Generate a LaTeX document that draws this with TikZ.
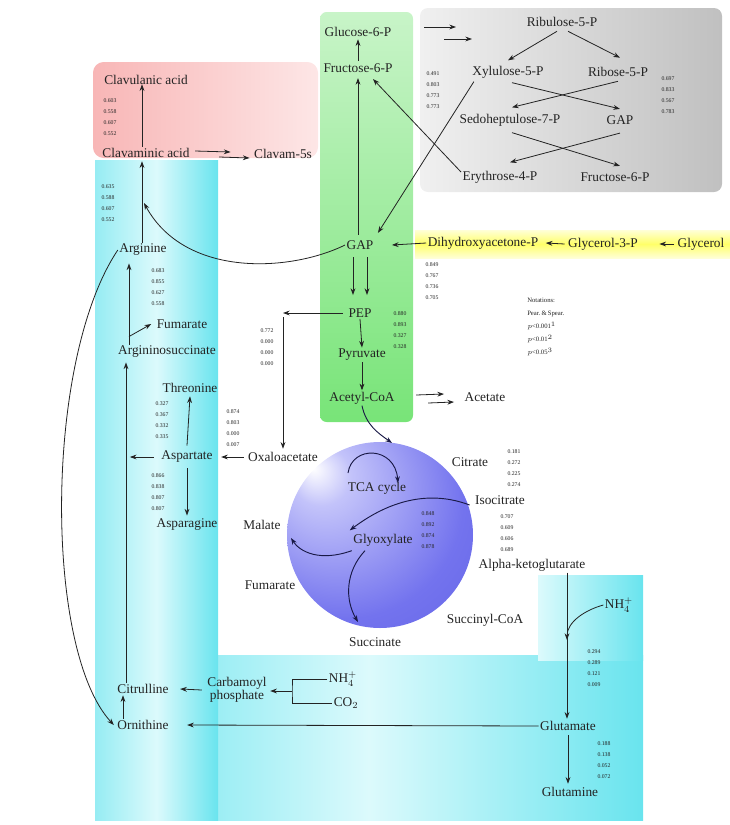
\documentclass[tikz,border=0pt]{standalone}
\usepackage{fontspec}
\setmainfont{Liberation Serif}
\usetikzlibrary{arrows.meta,calc}
\definecolor{cyanA}{RGB}{105,228,238}
\definecolor{cyanL}{RGB}{220,250,252}
\definecolor{grnA}{RGB}{120,228,120}
\definecolor{grnL}{RGB}{200,244,200}
\definecolor{redA}{RGB}{248,182,182}
\definecolor{redL}{RGB}{253,230,230}
\definecolor{gryA}{RGB}{192,192,192}
\definecolor{gryL}{RGB}{240,240,240}
\definecolor{yelA}{RGB}{255,255,105}
\definecolor{yelL}{RGB}{255,255,215}
\definecolor{ballL}{RGB}{195,195,250}
\definecolor{ballB}{RGB}{115,115,238}
\definecolor{ballD}{RGB}{82,82,220}
\definecolor{txt}{RGB}{35,35,35}
\definecolor{navy}{RGB}{25,25,70}
\pgfdeclareradialshading{tcaball}{\pgfpoint{-18bp}{18bp}}{color(0bp)=(white); color(8bp)=(ballL); color(32bp)=(ballB); color(68bp)=(ballD)}
\tikzset{
 lbl/.style={font=\fontsize{10}{11}\selectfont, text=txt, inner sep=1pt},
 nums/.style={font=\fontsize{4.3}{8.2}\selectfont, align=left, inner sep=0pt, text=txt},
 legtxt/.style={font=\fontsize{5}{9.8}\selectfont, align=left, inner sep=0pt, text=txt},
 arr/.style={-{Stealth[length=5pt,width=3.6pt]}, line width=0.6pt, draw=txt},
 narr/.style={-{Stealth[length=5pt,width=3.6pt]}, line width=0.7pt, draw=navy},
 ln/.style={line width=0.6pt, draw=txt},
}
\begin{document}
\begin{tikzpicture}[x=0.75pt,y=-0.75pt]
\useasboundingbox (0,0) rectangle (730,825);
% ---------- backgrounds
\shade[left color=cyanA, right color=cyanA, middle color=cyanL] (95,655) rectangle (643,820);
\shade[left color=cyanL, right color=cyanA] (538,575) rectangle (643,660);
\shade[left color=cyanA!70!white, right color=cyanA, middle color=cyanL] (95,160) rectangle (218,820);
\shade[left color=redA, right color=redL, rounded corners=8pt] (93,62) rectangle (318,158);
\shade[left color=gryL, right color=gryA, rounded corners=6pt] (420,8) rectangle (722,192);
\shade[top color=grnL, bottom color=grnA, rounded corners=5pt] (320,12) rectangle (413,422);
\shade[top color=yelL, bottom color=yelL, middle color=yelA] (415,230) rectangle (730,258);
\shade[shading=tcaball] (380,535) circle (93);

% ---------- red box
\node[lbl] (clavu) at (146,80) {Clavulanic acid};
\node[lbl] (clavam) at (146,153) {Clavaminic acid};
\node[lbl] (clav5) at (283,154) {Clavam-5s};
\node[nums] (nclav) at (110,117) {0.603\\0.558\\0.607\\0.552};

% ---------- green column
\node[lbl] (g6p) at (358,32) {Glucose-6-P};
\node[lbl] (f6p) at (358,68) {Fructose-6-P};
\node[lbl] (gap) at (360,245) {GAP};
\node[lbl] (pep) at (360,313) {PEP};
\node[lbl] (pyr) at (362,355) {Pyruvate};
\node[lbl] (accoa) at (362,398) {Acetyl-CoA};
\node[lbl] (acet) at (485,397) {Acetate};
\node[nums] (npep) at (400,330) {0.880\\0.893\\0.327\\0.328};

% ---------- gray box
\node[lbl] (ru5p) at (562,22) {Ribulose-5-P};
\node[lbl] (xu5p) at (508,72) {Xylulose-5-P};
\node[lbl] (r5p) at (618,72) {Ribose-5-P};
\node[lbl] (s7p) at (510,120) {Sedoheptulose-7-P};
\node[lbl] (gap2) at (620,120) {GAP};
\node[lbl] (e4p) at (500,177) {Erythrose-4-P};
\node[lbl] (f6p2) at (615,177) {Fructose-6-P};
\node[nums] (ngl) at (433,90) {0.491\\0.803\\0.773\\0.773};
\node[nums] (ngr) at (668,95) {0.697\\0.833\\0.567\\0.783};
\coordinate (la1) at (424,27); \coordinate (la2) at (456,27);
\coordinate (lb1) at (444,39); \coordinate (lb2) at (472,39);

% ---------- yellow band
\node[lbl] (dhap) at (483,243) {Dihydroxyacetone-P};
\node[lbl] (g3p) at (603,244) {Glycerol-3-P};
\node[lbl] (glyc) at (701,244) {Glycerol};
\node[nums] (ndhap) at (432,281) {0.849\\0.767\\0.736\\0.705};

% ---------- legend
\node[legtxt, anchor=north west] (leg) at (527,298) {Notations:\\Pear.\,\&\,Spear.\\$p$<0.001$^{1}$\\$p$<0.01$^{2}$\\$p$<0.05$^{3}$};

% ---------- left cyan column
\node[lbl] (arg) at (143,250) {Arginine};
\node[nums] (narg) at (108,203) {0.635\\0.588\\0.607\\0.552};
\node[lbl] (fum1) at (182,324) {Fumarate};
\node[lbl] (argsuc) at (167,352) {Argininosuccinate};
\node[nums] (nasuc) at (158,287) {0.683\\0.855\\0.627\\0.558};
\node[lbl] (thr) at (190,388) {Threonine};
\node[lbl] (asp) at (187,457) {Aspartate};
\node[lbl] (asn) at (187,525) {Asparagine};
\node[nums] (nthr) at (162,420) {0.327\\0.367\\0.332\\0.335};
\node[nums] (nasn) at (158,492) {0.866\\0.838\\0.807\\0.807};
\node[lbl] (oaa) at (283,457) {Oxaloacetate};
\node[nums] (noaa) at (233,428) {0.874\\0.803\\0.000\\0.007};
\node[nums] (npo) at (267,347) {0.772\\0.000\\0.000\\0.000};
\coordinate (pc) at (283,313);
\coordinate (argc) at (144,203);

% ---------- TCA
\node[lbl] (tca) at (377,488) {TCA cycle};
\node[lbl] (glyx) at (383,540) {Glyoxylate};
\node[nums] (nglyx) at (428,530) {0.848\\0.892\\0.874\\0.878};
\node[lbl] (citr) at (470,462) {Citrate};
\node[nums] (ncitr) at (514,468) {0.181\\0.272\\0.225\\0.274};
\node[lbl] (icit) at (500,500) {Isocitrate};
\node[nums] (nicit) at (507,533) {0.707\\0.609\\0.606\\0.689};
\node[lbl] (akg) at (532,565) {Alpha-ketoglutarate};
\node[lbl] (succoa) at (485,620) {Succinyl-CoA};
\node[lbl] (succ) at (375,642) {Succinate};
\node[lbl] (fum2) at (270,585) {Fumarate};
\node[lbl] (mal) at (262,525) {Malate};
\coordinate (ctop) at (392,443);
\coordinate (cmal) at (291,538);
\coordinate (csuc) at (358,622);
\coordinate (tca1) at (348,473);
\coordinate (tca2) at (398,483);

% ---------- bottom
\node[lbl] (nh4a) at (619,605) {NH$_4^+$};
\node[nums] (nnh4) at (594,668) {0.294\\0.289\\0.121\\0.009};
\node[lbl] (glu) at (568,726) {Glutamate};
\node[lbl] (gln) at (570,792) {Glutamine};
\node[nums] (ngln) at (604,760) {0.188\\0.138\\0.052\\0.072};
\node[lbl] (cit) at (143,689) {Citrulline};
\node[lbl] (orn) at (143,725) {Ornithine};
\node[lbl, align=center, font=\fontsize{10}{9}\selectfont] (carb) at (237,690) {Carbamoyl\\phosphate};
\node[lbl] (nh4b) at (343,679) {NH$_4^+$};
\node[lbl] (co2) at (346,703) {CO$_2$};
\coordinate (brk) at (292,691);
\coordinate (nhj) at (567,640);

% ---------- connectors: red box
\draw[arr] ($(clavam.north)+(-4,0)$) -- ($(clavu.south)+(-4,-2)$);
\draw[arr] ($(clavam.east)+(4,-2)$) -- ($(clav5.west)+(-22,-2)$);
\draw[arr] ($(clavam.east)+(28,4)$) -- ($(clav5.west)+(-3,4)$);

% ---------- connectors: left column
\draw[arr] ($(arg.north)+(-1,0)$) -- ($(clavam.south)+(-4,2)$);
\draw[arr] (gap.west) .. controls (290,272) and (185,278) .. (argc);
\draw[arr] ($(argsuc.north)+(-38,0)$) -- ($(arg.south)+(-14,6)$);
\draw[arr] ($(argsuc.north)+(-38,-8)$) -- ($(fum1.west)+(-4,0)$);
\draw[arr] ($(cit.north)+(-17,0)$) -- ($(argsuc.south)+(-41,3)$);
\draw[arr] ($(orn.north)+(-20,0)$) -- ($(cit.south)+(-20,0)$);
\draw[arr] (arg.west) .. controls (44,360) and (44,650) .. ($(orn.west)+(-2,0)$);
\draw[arr] ($(asp.west)+(-6,0)$) -- ($(asp.west)+(-30,0)$);
\draw[arr] ($(asp.north)+(0,-4)$) -- ($(thr.south)+(0,2)$);
\draw[arr] ($(asp.south)+(0,4)$) -- ($(asn.north)+(0,-2)$);
\draw[arr] ($(oaa.west)+(-3,0)$) -- ($(asp.east)+(7,0)$);
\draw[arr] ($(pep.west)+(-4,0)$) -- (pc);
\draw[arr] ($(pc)+(0,4)$) -- ($(oaa.north)+(0,-2)$);

% ---------- connectors: green column
\draw[arr] ($(f6p.north)+(0,-1)$) -- ($(g6p.south)+(0,1)$);
\draw[arr] ($(gap.north)+(-2,-4)$) -- ($(f6p.south)+(0,4)$);
\draw[arr] ($(gap.south)+(-7,6)$) -- ($(pep.north)+(-7,-12)$);
\draw[arr] ($(gap.south)+(7,6)$) -- ($(pep.north)+(7,-12)$);
\draw[arr] (pep.south) -- (pyr.north);
\draw[arr] (pyr.south) -- (accoa.north);
\draw[arr] ($(accoa.east)+(20,-3)$) -- ($(acet.west)+(-19,-3)$);
\draw[arr] ($(accoa.east)+(32,5)$) -- ($(acet.west)+(-9,5)$);
\draw[arr] ($(e4p.west)+(0,-5)$) -- ($(f6p.south)+(15,5)$);
\draw[arr] ($(xu5p.south west)+(3,2)$) -- ($(gap.north east)+(3,-6)$);

% ---------- connectors: gray box
\draw[arr] (la1) -- (la2);
\draw[arr] (lb1) -- (lb2);
\draw[arr] ($(ru5p.south)+(-5,3)$) -- ($(xu5p.north)+(0,-4)$);
\draw[arr] ($(ru5p.south)+(6,3)$) -- ($(r5p.north)+(2,-8)$);
\draw[arr] ($(xu5p.south)+(4,3)$) -- ($(gap2.north)+(0,-5)$);
\draw[arr] ($(r5p.south)+(0,3)$) -- ($(s7p.north)+(2,-5)$);
\draw[arr] ($(s7p.south)+(2,5)$) -- ($(f6p2.north)+(5,-5)$);
\draw[arr] ($(gap2.south)+(0,7)$) -- ($(e4p.north)+(10,-7)$);

% ---------- connectors: yellow band
\draw[arr] (dhap.west) -- ($(gap.east)+(17,0)$);
\draw[arr] ($(g3p.west)+(-2,0)$) -- ($(dhap.east)+(6,0)$);
\draw[arr] ($(glyc.west)+(-2,0)$) -- ($(g3p.east)+(20,0)$);

% ---------- connectors: TCA
\draw[narr] (accoa.south) .. controls (366,425) and (378,433) .. (ctop);
\draw[narr] (tca1) .. controls (352,445) and (395,446) .. (tca2);
\draw[narr] ($(icit.west)+(-4,5)$) .. controls (430,490) and (390,500) .. ($(glyx.north west)+(-2,-2)$);
\draw[narr] ($(glyx.south west)+(0,3)$) .. controls (320,562) and (300,552) .. (cmal);
\draw[narr] ($(glyx.south)+(-18,3)$) .. controls (345,572) and (345,600) .. (csuc);

% ---------- connectors: bottom
\draw[arr] ($(akg.south)+(35,0)$) -- ($(glu.north)+(-1,-1)$);
\draw[arr] (nh4a.west) .. controls (585,610) and (567,622) .. (nhj);
\draw[arr] (glu.west) -- ($(orn.east)+(17,0)$);
\draw[arr] ($(glu.south)+(0,3)$) -- ($(gln.north)+(-2,-2)$);
\draw[arr] ($(carb.west)+(-4,0)$) -- ($(cit.east)+(10,0)$);
\draw[ln] (nh4b.west) -| (brk) |- (co2.west);
\draw[arr] (brk) -- ($(carb.east)+(2,1)$);
\end{tikzpicture}
\end{document}
